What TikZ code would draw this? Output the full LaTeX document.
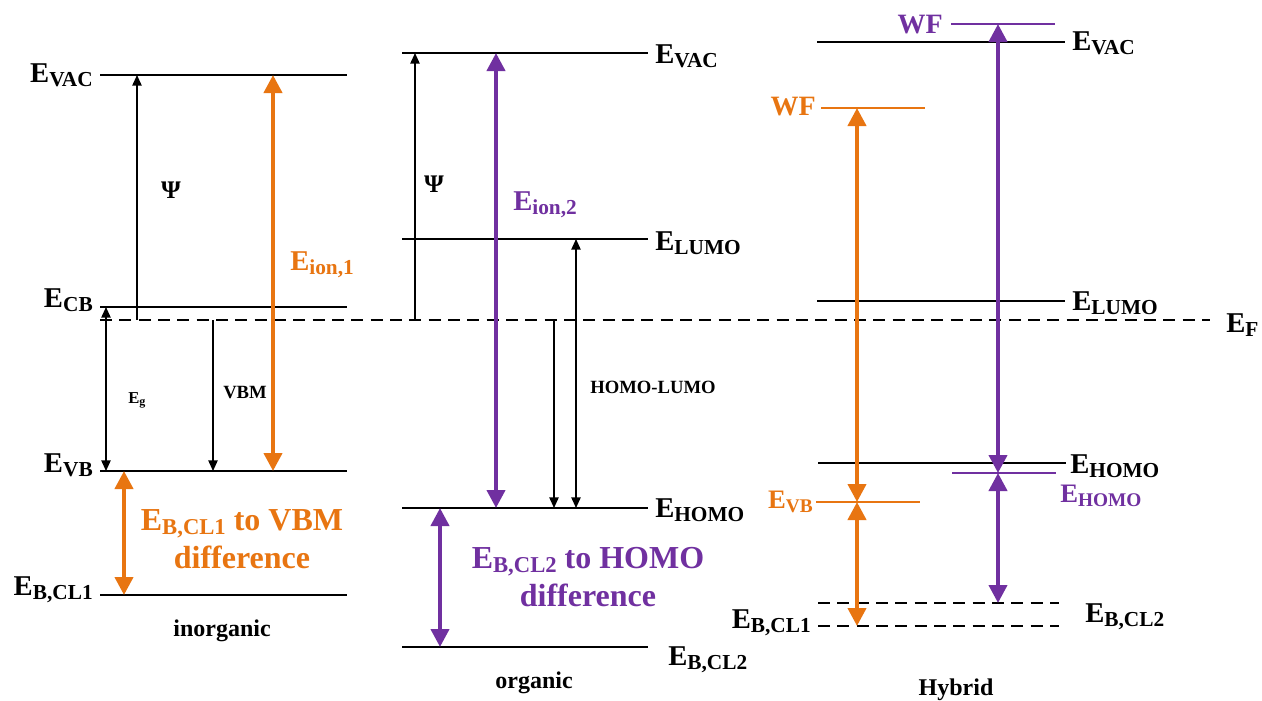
\documentclass[tikz,border=0pt]{standalone}
\usepackage{fontspec}
\setmainfont{Liberation Serif}
\usetikzlibrary{arrows.meta}
\definecolor{orng}{RGB}{232,117,17}
\definecolor{prpl}{RGB}{112,48,160}
\newcommand{\fs}[1]{\fontsize{#1}{#1}\selectfont}
\newcommand{\sub}[3][3.3pt]{\raisebox{-#1}{\fs{#2}#3}}
\begin{document}
\begin{tikzpicture}[x=0.75pt,y=-0.75pt,
 lvl/.style={line width=1.5pt},
 efl/.style={line width=1.5pt, dash pattern=on 9pt off 5.5pt},
 lab/.style={inner sep=0pt, font=\bfseries\fs{21.5}},
 clab/.style={inner sep=0pt, font=\bfseries\fs{20}},
 small/.style={inner sep=0pt, font=\bfseries\fs{14}},
 captxt/.style={inner sep=0pt, font=\bfseries\fs{18}},
 barr/.style={line width=1.1pt, -{Triangle[width=7pt,length=8pt]}},
 bdarr/.style={line width=1.1pt, {Triangle[width=7pt,length=8pt]}-{Triangle[width=7pt,length=8pt]}},
 carr/.style={line width=3pt, {Triangle[width=13.5pt,length=13.5pt]}-{Triangle[width=13.5pt,length=13.5pt]}},
 diff/.style={inner sep=0pt, font=\bfseries\fontsize{24}{28.5}\selectfont, align=center},
]
\useasboundingbox[fill=white] (0,0) rectangle (1262,700);

% ---------- Fermi level ----------
\draw[efl] (100,320) coordinate (efL) -- (1210,320) coordinate (efR);
\node[lab, anchor=base west] (ef) at (1226,332) {E\sub{16}{F}};

% ---------- inorganic ----------
\draw[lvl] (100,75) coordinate (vacA1) -- (347,75) coordinate (vacB1);
\draw[lvl] (100,307) coordinate (cbA1) -- (347,307) coordinate (cbB1);
\draw[lvl] (100,471) coordinate (vbA1) -- (347,471) coordinate (vbB1);
\draw[lvl] (100,595) coordinate (clA1) -- (347,595) coordinate (clB1);
\node[lab, anchor=base east] (vac1) at (93,82) {E\sub{16}{VAC}};
\node[lab, anchor=base east] (cb1) at (93,307) {E\sub{16}{CB}};
\node[lab, anchor=base east] (vb1) at (93,472) {E\sub{16}{VB}};
\node[lab, anchor=base east] (cl1) at (93,595) {E\sub{16}{B,CL1}};
\node[captxt, anchor=base] (inorg) at (222,636) {inorganic};

\coordinate (psiS1) at (137,320); \coordinate (psiE1) at (137,75);
\draw[barr] (psiS1) -- (psiE1);
\node[inner sep=0pt, font=\bfseries\fs{19}, anchor=base] (psi1) at (171,198) {Ψ};
\coordinate (egS) at (106,307); \coordinate (egE) at (106,471);
\draw[bdarr] (egS) -- (egE);
\node[inner sep=0pt, font=\bfseries\fs{12.5}, anchor=base west] (eg) at (128,403) {E\sub[2.2pt]{9}{g}};
\coordinate (vbmS) at (213,320); \coordinate (vbmE) at (213,471);
\draw[barr] (vbmS) -- (vbmE);
\node[small, anchor=base west] (vbm) at (223,398) {VBM};
\coordinate (ionS1) at (273,75); \coordinate (ionE1) at (273,471);
\draw[carr, orng] (ionS1) -- (ionE1);
\node[lab, text=orng, anchor=base west] (ion1) at (290,270) {E\sub{16}{ion,1}};
\coordinate (dS1) at (124,471); \coordinate (dE1) at (124,595);
\draw[carr, orng] (dS1) -- (dE1);
\node[diff, text=orng] (d1) at (242,539) {E\sub{17}{B,CL1} to VBM\\difference};

% ---------- organic ----------
\draw[lvl] (402,53) -- (648,53);
\draw[lvl] (402,239) -- (648,239);
\draw[lvl] (402,508) -- (648,508);
\draw[lvl] (402,647) -- (648,647);
\node[lab, anchor=base west] (vac2) at (655,63) {E\sub{16}{VAC}};
\node[lab, anchor=base west] (lumo2) at (655,250) {E\sub{16}{LUMO}};
\node[lab, anchor=base west] (homo2) at (655,517) {E\sub{16}{HOMO}};
\node[lab, anchor=base west] (cl2) at (668,665) {E\sub{16}{B,CL2}};
\node[captxt, anchor=base] (org) at (534,688) {organic};

\coordinate (psiS2) at (415,320); \coordinate (psiE2) at (415,53);
\draw[barr] (psiS2) -- (psiE2);
\node[inner sep=0pt, font=\bfseries\fs{19}, anchor=base] (psi2) at (434,192) {Ψ};
\coordinate (ionS2) at (496,53); \coordinate (ionE2) at (496,508);
\draw[carr, prpl] (ionS2) -- (ionE2);
\node[lab, text=prpl, anchor=base west] (ion2) at (513,210) {E\sub{16}{ion,2}};
\coordinate (hlS) at (554,320); \coordinate (hlE) at (554,508);
\draw[barr] (hlS) -- (hlE);
\coordinate (glS) at (576,239); \coordinate (glE) at (576,508);
\draw[bdarr] (glS) -- (glE);
\node[small, anchor=base west] (hl) at (590,393) {HOMO-LUMO};
\coordinate (dS2) at (440,508); \coordinate (dE2) at (440,647);
\draw[carr, prpl] (dS2) -- (dE2);
\node[diff, text=prpl] (d2) at (588,577) {E\sub{17}{B,CL2} to HOMO\\difference};

% ---------- hybrid ----------
\draw[lvl, prpl] (951,24) -- (1055,24);
\draw[lvl] (817,42) -- (1065,42);
\draw[lvl, orng] (821,108) -- (925,108);
\draw[lvl] (817,301) -- (1065,301);
\draw[lvl] (818,463) -- (1066,463);
\draw[lvl, prpl] (952,473) -- (1056,473);
\draw[lvl, orng] (816,502) -- (920,502);
\draw[efl] (818,603) -- (1059,603);
\draw[efl] (818,626) -- (1059,626);

\node[inner sep=0pt, font=\bfseries\fs{21}, text=prpl, anchor=base east] (wf2) at (943,33) {WF};
\node[inner sep=0pt, font=\bfseries\fs{21}, text=orng, anchor=base east] (wf1) at (816,115) {WF};
\node[lab, anchor=base west] (vac3) at (1072,50) {E\sub{16}{VAC}};
\node[lab, anchor=base west] (lumo3) at (1072,310) {E\sub{16}{LUMO}};
\node[lab, anchor=base west] (homo3) at (1070,473) {E\sub{16}{HOMO}};
\node[clab, text=prpl, anchor=base west] (homo3p) at (1060,502) {E\sub[3pt]{14.5}{HOMO}};
\node[clab, text=orng, anchor=base east] (vb3) at (813,508) {E\sub[3pt]{14.5}{VB}};
\node[lab, anchor=base east] (cl31) at (811,628) {E\sub{16}{B,CL1}};
\node[lab, anchor=base west] (cl32) at (1085,622) {E\sub{16}{B,CL2}};
\node[captxt, anchor=base] (hyb) at (956,695) {Hybrid};

\coordinate (oA) at (857,108); \coordinate (oB) at (857,502); \coordinate (oC) at (857,626);
\draw[carr, orng] (oA) -- (oB);
\draw[carr, orng] (oB) -- (oC);
\coordinate (pA) at (998,24); \coordinate (pB) at (998,473); \coordinate (pC) at (998,603);
\draw[carr, prpl] (pA) -- (pB);
\draw[carr, prpl] (pB) -- (pC);
\end{tikzpicture}
\end{document}
